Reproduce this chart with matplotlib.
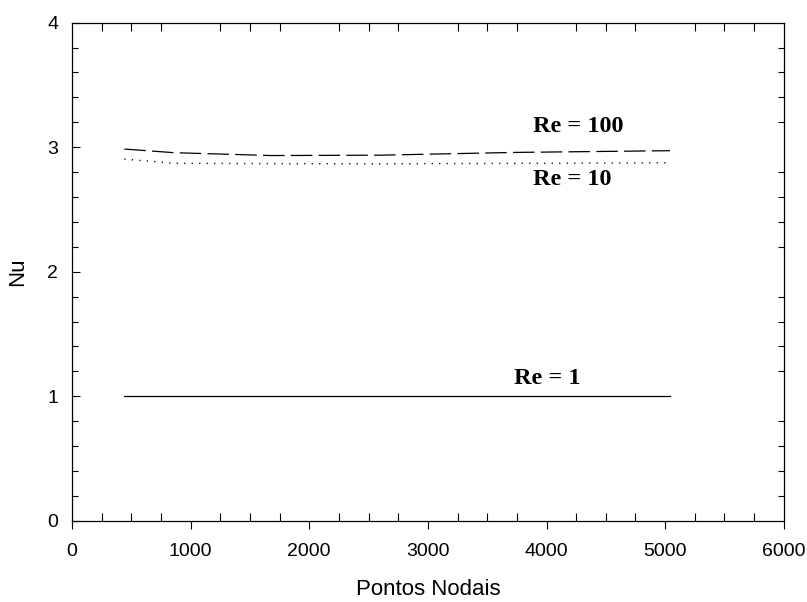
import matplotlib
matplotlib.use("Agg")
import matplotlib.pyplot as plt
from matplotlib.ticker import MultipleLocator

# Nusselt number vs. number of nodal points for three Reynolds numbers
pontos = [441, 861, 1681, 2601, 3721, 5041]
nu_re1 = [1.0, 1.0, 1.0, 1.0, 1.0, 1.0]
nu_re10 = [2.904, 2.871, 2.868, 2.867, 2.870, 2.875]
nu_re100 = [2.985, 2.956, 2.933, 2.936, 2.958, 2.972]

labels = ["Re = 1", "Re = 10", "Re = 100"]
label_pos = [(3730, 1.145), (3885, 2.737), (3885, 3.165)]

plt.rcParams["lines.scale_dashes"] = False

fig = plt.figure(figsize=(8.07, 6.02), dpi=100)
ax = fig.add_axes([0.0892, 0.135, 0.882, 0.8273])

ax.plot(pontos, nu_re1, color="black", lw=0.9)
ax.plot(pontos, nu_re10, color="black", lw=1.0, dashes=(0.9, 4.5))
ax.plot(pontos, nu_re100, color="black", lw=0.9, dashes=(15.5, 4.5))

for txt, (x, y) in zip(labels, label_pos):
    ax.text(x, y, txt, fontsize=17.5, fontweight="bold",
            family="Liberation Serif", ha="left", va="center")

ax.set_xlim(0, 6000)
ax.set_ylim(0, 4)
ax.xaxis.set_major_locator(MultipleLocator(1000))
ax.xaxis.set_minor_locator(MultipleLocator(250))
ax.yaxis.set_major_locator(MultipleLocator(1))
ax.yaxis.set_minor_locator(MultipleLocator(0.2))

# x majors point out, minors in; y ticks all inward
ax.tick_params(axis="x", which="major", direction="out", length=6, width=0.8,
               labelsize=14, pad=10)
ax.tick_params(axis="x", which="minor", direction="in", length=5.5, width=0.8,
               top=True)
ax.tick_params(axis="y", which="major", direction="in", length=6, width=0.8,
               labelsize=14, pad=10)
ax.tick_params(axis="y", which="minor", direction="in", length=4, width=0.8,
               right=True)

for lab in ax.get_xticklabels() + ax.get_yticklabels():
    lab.set_family("Liberation Sans")

for sp in ax.spines.values():
    sp.set_linewidth(0.9)

ax.set_xlabel("Pontos Nodais", fontsize=16, family="Liberation Sans", labelpad=14)
ax.set_ylabel("Nu", fontsize=16, family="Liberation Sans", labelpad=14)

fig.savefig("out.png", dpi=100)
